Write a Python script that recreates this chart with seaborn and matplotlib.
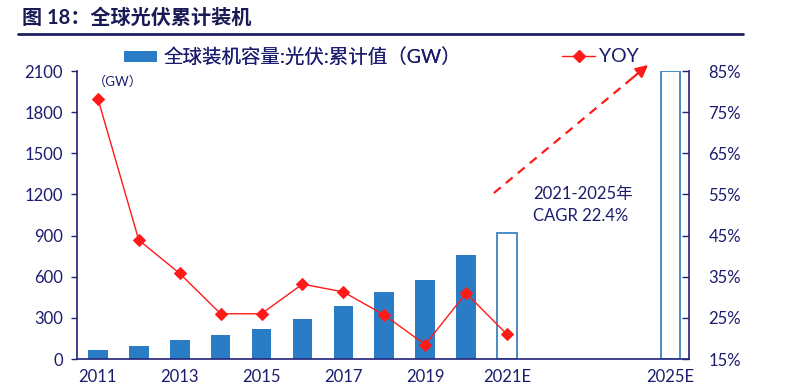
import matplotlib
matplotlib.use("Agg")
import matplotlib.pyplot as plt
import seaborn as sns
import pandas as pd
import numpy as np
from matplotlib.patches import Patch
from matplotlib.lines import Line2D

# ---- data ----
categories = ['2011', '2012', '2013', '2014', '2015', '2016', '2017', '2018',
              '2019', '2020', '2021E', '2022E', '2023E', '2024E', '2025E']
actual_years = ['2011', '2012', '2013', '2014', '2015', '2016', '2017', '2018', '2019', '2020']
actual_gw = [68, 98, 135, 172, 218, 293, 385, 487, 578, 758]
forecast_years = ['2021E', '2025E']
forecast_gw = [921, 2100]
yoy_years = ['2011', '2012', '2013', '2014', '2015', '2016', '2017', '2018', '2019', '2020', '2021E']
yoy_pct = [78.3, 43.9, 35.8, 26.0, 26.0, 33.2, 31.3, 25.7, 18.5, 31.0, 21.0]
tick_labels = ['2011', '', '2013', '', '2015', '', '2017', '', '2019', '', '2021E', '', '', '', '2025E']
left_ticks = [0, 300, 600, 900, 1200, 1500, 1800, 2100]
right_ticks = [15, 25, 35, 45, 55, 65, 75, 85]

NAVY = '#1C1C6E'
AXIS = '#23237A'
BLUE = '#2A7DC4'
HOLLOW = '#4A8CC4'
RED = '#FF1A1A'

sns.set_theme(style='white')
plt.rcParams['font.family'] = ['Lato', 'Noto Sans CJK SC', 'DejaVu Sans']
plt.rcParams['axes.unicode_minus'] = False

fig = plt.figure(figsize=(7.94, 3.92), dpi=100)
ax = fig.add_axes([77/794, 1-359/392, (689-77)/794, (359-71)/392])

df_act = pd.DataFrame({'year': actual_years, 'gw': actual_gw})
df_fc = pd.DataFrame({'year': forecast_years, 'gw': forecast_gw})

sns.barplot(data=df_act, x='year', y='gw', order=categories, color=BLUE,
            saturation=1, width=0.48, ax=ax, linewidth=0)
sns.barplot(data=df_fc, x='year', y='gw', order=categories, color=HOLLOW,
            saturation=1, width=0.48, ax=ax, fill=False, linewidth=1.4)

ax.set_xlim(-0.51, 14.45)
ax.set_ylim(0, 2100)
ax.set_yticks(left_ticks)
ax.set_yticklabels([str(t) for t in left_ticks], color=NAVY, fontsize=12)
ax.set_xticks(range(len(categories)))
ax.set_xticklabels(tick_labels, color=NAVY, fontsize=12)
ax.set_xlabel('')
ax.set_ylabel('')
ax.tick_params(axis='x', length=0, pad=7)
ax.tick_params(axis='y', direction='out', length=4, width=1, color=AXIS, pad=6, left=True)
for s in ['top', 'right']:
    ax.spines[s].set_visible(False)
for s in ['left', 'bottom']:
    ax.spines[s].set_color(AXIS)
    ax.spines[s].set_linewidth(1.2)

ax2 = ax.twinx()
xpos = [categories.index(y) for y in yoy_years]
df_yoy = pd.DataFrame({'x': xpos, 'yoy': yoy_pct})
sns.lineplot(data=df_yoy, x='x', y='yoy', ax=ax2, color=RED, linewidth=1.0,
             marker='D', markersize=6.5, markeredgecolor=RED, markerfacecolor=RED)
ax2.set_ylim(15, 85)
ax2.set_yticks(right_ticks)
ax2.set_yticklabels([f'{t}%' for t in right_ticks], color=NAVY, fontsize=12)
ax2.set_ylabel('')
ax2.tick_params(axis='y', direction='in', length=5, width=1, color=AXIS, pad=14, right=True)
for s in ['top', 'left', 'bottom']:
    ax2.spines[s].set_visible(False)
ax2.spines['right'].set_color(AXIS)
ax2.spines['right'].set_linewidth(1.2)
ax.set_xlim(-0.51, 14.45)

# unit label
ax.text(0.026, 0.985, '（GW）', transform=ax.transAxes, fontsize=9.5, color=NAVY,
        va='top', ha='left')

# dashed arrow
x0, y0 = 9.68, 1210
x1, y1 = 13.45, 2144
ax.plot([x0, x0 + (x1 - x0) * 0.93], [y0, y0 + (y1 - y0) * 0.93], ls=(0, (4, 3)),
        color=RED, lw=1.6, clip_on=False, zorder=5)
ax.annotate('', xy=(x1, y1), xytext=(x0 + (x1 - x0) * 0.9, y0 + (y1 - y0) * 0.9),
            arrowprops=dict(arrowstyle='-|>,head_length=0.6,head_width=0.3',
                            color=RED, lw=1.6, shrinkA=0, shrinkB=0),
            annotation_clip=False, zorder=5)

ax.text(10.64, 1123, '2021-2025年\nCAGR 22.4%', fontsize=12, color=NAVY,
        ha='left', va='center', linespacing=1.45)

# legends
h1 = [Patch(facecolor=BLUE, edgecolor='none')]
leg1 = fig.legend(h1, ['全球装机容量:光伏:累计值（GW）'], loc='center left',
                  bbox_to_anchor=(124/794, 1-57/392), frameon=False, fontsize=14,
                  handlelength=1.7, handleheight=0.45, handletextpad=0.35,
                  borderpad=0, borderaxespad=0, labelcolor=NAVY)
h2 = [Line2D([0], [0], color=RED, lw=1.0, marker='D', markersize=6)]
leg2 = fig.legend(h2, ['YOY'], loc='center left',
                  bbox_to_anchor=(562/794, 1-57/392), frameon=False, fontsize=14,
                  handlelength=1.7, handletextpad=0.2,
                  borderpad=0, borderaxespad=0, labelcolor=NAVY)
fig.add_artist(leg1)

# title
fig.text(22/794, 1-18/392, '图 18：全球光伏累计装机', fontsize=14.5, fontweight='bold',
         color='#1A1B55', ha='left', va='center')
fig.add_artist(Line2D([18/794, 743/794], [1-34/392, 1-34/392], color='#1F2060', lw=2))

fig.savefig('out.png', dpi=100)
